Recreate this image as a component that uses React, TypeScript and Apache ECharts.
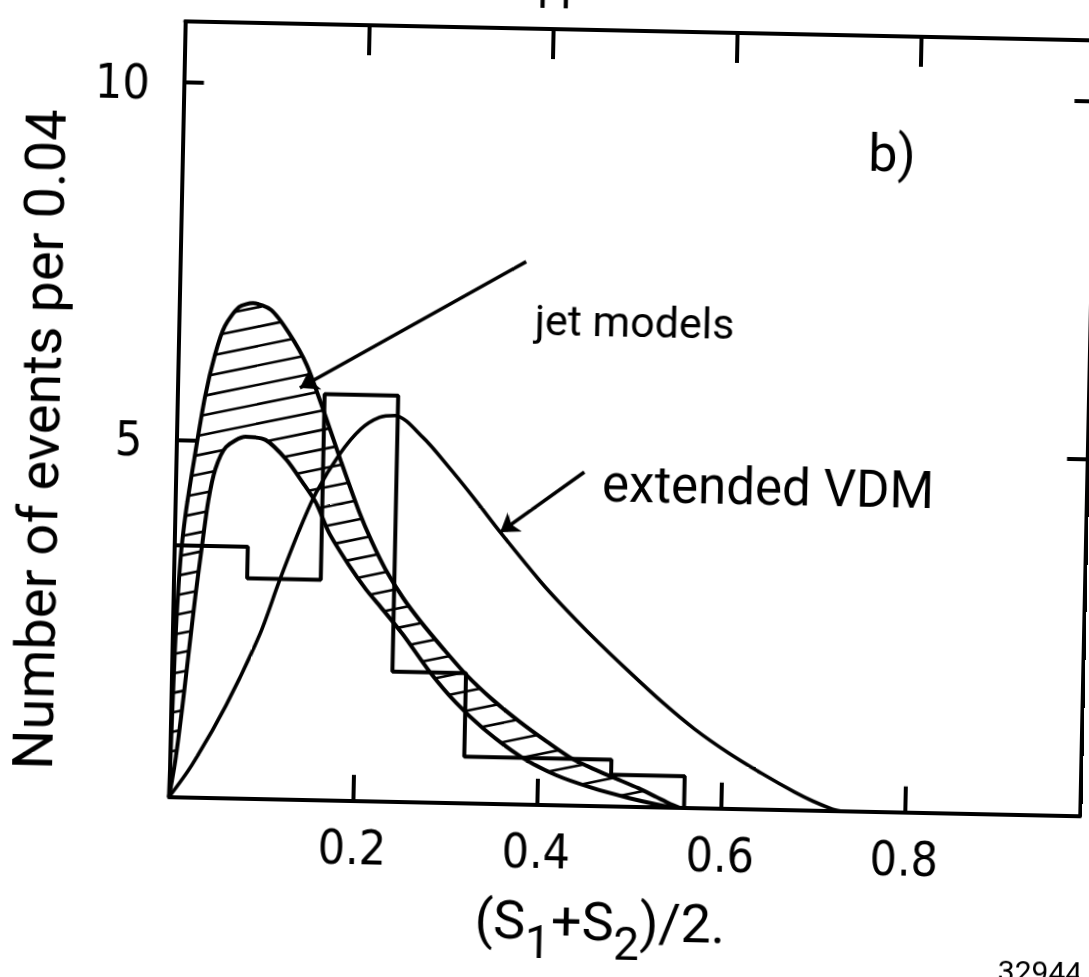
import React, { useEffect, useRef } from "react";
import * as echarts from "echarts";

// ---------- data ----------
const xTickLabels = [0.2, 0.4, 0.6, 0.8];
const yTickLabels = [5, 10];

const histEdges = [0, 0.08, 0.16, 0.24, 0.32, 0.4, 0.48, 0.56];
const histCounts = [3.52, 3.08, 5.68, 1.82, 0.65, 0.65, 0.44];

// jet models: upper boundary of the hatched band
const jetUpper: number[][] = [
  [0, 0], [0.003, 2.0], [0.007, 3.3], [0.012, 4.0], [0.02, 4.75], [0.03, 5.6],
  [0.04, 6.2], [0.05, 6.6], [0.065, 6.87], [0.08, 6.93], [0.1, 6.84], [0.12, 6.52],
  [0.14, 6.08], [0.16, 5.42], [0.18, 4.72], [0.2, 4.05], [0.215, 3.62], [0.23, 3.25],
  [0.25, 2.85], [0.27, 2.52], [0.295, 2.15], [0.32, 1.8], [0.35, 1.45], [0.38, 1.15],
  [0.41, 0.88], [0.435, 0.67], [0.46, 0.52], [0.485, 0.39], [0.51, 0.26], [0.53, 0.14],
  [0.545, 0.05], [0.555, 0],
];
// jet models: lower boundary of the hatched band
const jetLower: number[][] = [
  [0, 0], [0.006, 0.5], [0.012, 1.2], [0.018, 2.0], [0.024, 2.8], [0.03, 3.5],
  [0.036, 4.15], [0.043, 4.6], [0.054, 4.91], [0.075, 5.06], [0.097, 5.02], [0.12, 4.75],
  [0.138, 4.44], [0.153, 4.16], [0.168, 3.74], [0.19, 3.3], [0.21, 2.95], [0.225, 2.73],
  [0.25, 2.35], [0.281, 1.82], [0.31, 1.4], [0.34, 1.05], [0.381, 0.67], [0.42, 0.42],
  [0.46, 0.25], [0.5, 0.12], [0.53, 0.04], [0.55, 0],
];
// extended VDM
const vdm: number[][] = [
  [0, 0], [0.024, 0.45], [0.06, 1.3], [0.095, 2.3], [0.115, 3.05], [0.135, 3.75],
  [0.153, 4.3], [0.178, 4.85], [0.2, 5.2], [0.22, 5.37], [0.237, 5.4], [0.268, 5.1],
  [0.295, 4.72], [0.324, 4.28], [0.354, 3.8], [0.399, 3.12], [0.421, 2.82], [0.458, 2.35],
  [0.496, 1.9], [0.533, 1.48], [0.57, 1.1], [0.607, 0.78], [0.644, 0.5], [0.68, 0.25],
  [0.7, 0.13], [0.72, 0.03], [0.73, 0],
];

// annotation arrows (from, to) in data units
const jetArrow = [[0.376, 7.59], [0.133, 5.76]];
const vdmArrow = [[0.444, 4.665], [0.354, 3.8]];

const yTitle = "Number of events per 0.04";
const topText = "γγ events.";
const figNumber = "32944";

// ---------- style ----------
const NUM_FONT = "'Liberation Sans Narrow', 'DejaVu Sans Condensed', Roboto, sans-serif";
const TXT_FONT = "Roboto, 'DejaVu Sans', sans-serif";
const HATCH_ANGLE = 12.7;
const HATCH_GAP = 19;
const X_MAX = 0.99;
const Y_MAX = 10.85;
const PX_PER_X = 920;
const PX_PER_Y = 71.5;

function renderHatch(_params: any, api: any) {
  const pts: number[][] = jetUpper
    .map((p) => api.coord(p))
    .concat(jetLower.slice().reverse().map((p) => api.coord(p)));
  const a = (HATCH_ANGLE * Math.PI) / 180;
  const d = [Math.cos(a), -Math.sin(a)];
  const n = [Math.sin(a), Math.cos(a)];
  const proj = pts.map((p) => p[0] * n[0] + p[1] * n[1]);
  const lo = Math.min(...proj);
  const hi = Math.max(...proj);
  const children: any[] = [];
  for (let s = Math.ceil(lo / HATCH_GAP) * HATCH_GAP + 0.5; s < hi; s += HATCH_GAP) {
    const us: number[] = [];
    for (let i = 0; i < pts.length; i++) {
      const j = (i + 1) % pts.length;
      const si = proj[i];
      const sj = proj[j];
      if ((si - s) * (sj - s) < 0) {
        const t = (s - si) / (sj - si);
        const x = pts[i][0] + t * (pts[j][0] - pts[i][0]);
        const y = pts[i][1] + t * (pts[j][1] - pts[i][1]);
        us.push(x * d[0] + y * d[1]);
      }
    }
    us.sort((p, q) => p - q);
    for (let k = 0; k + 1 < us.length; k += 2) {
      const u1 = us[k];
      const u2 = us[k + 1];
      children.push({
        type: "line",
        shape: {
          x1: s * n[0] + u1 * d[0],
          y1: s * n[1] + u1 * d[1],
          x2: s * n[0] + u2 * d[0],
          y2: s * n[1] + u2 * d[1],
        },
        style: { stroke: "#000", lineWidth: 2.6 },
      });
    }
  }
  return { type: "group", children };
}

export default function App() {
  const ref = useRef<HTMLDivElement>(null);

  useEffect(() => {
    document.documentElement.style.overflow = "hidden";
    document.body.style.overflow = "hidden";
    document.body.style.margin = "0";
    if (!ref.current) return;
    const chart = echarts.init(ref.current, null, { renderer: "svg" });

    const histData: number[][] = histCounts.map((c, i) => [histEdges[i], c]);
    histData.push([histEdges[histEdges.length - 1], histCounts[histCounts.length - 1]]);
    histData.push([histEdges[histEdges.length - 1], 0]);

    const axisLine = { show: true, onZero: false, lineStyle: { color: "#000", width: 4 } };
    const tickStyle = { color: "#000", width: 4 };
    const gridBottomPx = 804.8;

    const option: any = {
      animation: false,
      backgroundColor: "#fff",
      grid: {
        left: 175.5,
        top: gridBottomPx - Y_MAX * PX_PER_Y,
        width: X_MAX * PX_PER_X,
        height: Y_MAX * PX_PER_Y,
        containLabel: false,
        outerBoundsMode: "none",
      },
      xAxis: [
        {
          type: "value",
          min: 0,
          max: X_MAX,
          interval: 0.2,
          position: "bottom",
          axisLine,
          axisTick: { show: true, inside: true, length: 26, lineStyle: tickStyle },
          axisLabel: {
            color: "#000",
            fontSize: 48,
            fontFamily: NUM_FONT,
            margin: 22,
            formatter: (v: number) =>
              xTickLabels.some((t) => Math.abs(t - v) < 1e-6) ? v.toFixed(1) : "",
          },
          splitLine: { show: false },
        },
        {
          type: "value",
          min: 0,
          max: X_MAX,
          interval: 0.2,
          position: "top",
          axisLine,
          axisTick: { show: true, inside: true, length: 30, lineStyle: tickStyle },
          axisLabel: { show: false },
          splitLine: { show: false },
        },
      ],
      yAxis: [
        {
          type: "value",
          min: 0,
          max: Y_MAX,
          interval: 5,
          position: "left",
          axisLine,
          axisTick: { show: true, inside: true, length: 20, lineStyle: tickStyle },
          axisLabel: {
            color: "#000",
            fontSize: 48,
            fontFamily: NUM_FONT,
            margin: 34,
            formatter: (v: number) =>
              yTickLabels.some((t) => Math.abs(t - v) < 1e-6) ? String(v) : "",
          },
          splitLine: { show: false },
        },
        {
          type: "value",
          min: 0,
          max: Y_MAX,
          interval: 5,
          position: "right",
          axisLine,
          axisTick: { show: true, inside: true, length: 20, lineStyle: tickStyle },
          axisLabel: { show: false },
          splitLine: { show: false },
        },
      ],
      series: [
        {
          type: "custom",
          name: "hatch",
          coordinateSystem: "cartesian2d",
          silent: true,
          data: [[0, 0]],
          renderItem: renderHatch,
          z: 2,
        },
        {
          type: "line",
          name: "jet models (upper)",
          data: jetUpper,
          smooth: 0.25,
          showSymbol: false,
          lineStyle: { color: "#000", width: 4 },
          z: 3,
        },
        {
          type: "line",
          name: "jet models (lower)",
          data: jetLower,
          smooth: 0.25,
          showSymbol: false,
          lineStyle: { color: "#000", width: 4 },
          z: 3,
        },
        {
          type: "line",
          name: "extended VDM",
          data: vdm,
          smooth: 0.3,
          showSymbol: false,
          lineStyle: { color: "#000", width: 3.6 },
          z: 3,
          markLine: {
            silent: true,
            symbol: ["none", "arrow"],
            symbolSize: 18,
            label: { show: false },
            lineStyle: { color: "#000", width: 3.5, type: "solid" },
            data: [
              [{ coord: jetArrow[0] }, { coord: jetArrow[1] }],
              [{ coord: vdmArrow[0] }, { coord: vdmArrow[1] }],
            ],
          },
        },
        {
          type: "line",
          name: "data",
          data: histData,
          step: "end",
          showSymbol: false,
          lineStyle: { color: "#000", width: 4 },
          z: 3,
        },
      ],
      graphic: [
        {
          type: "text",
          x: 39,
          y: 450,
          rotation: Math.PI / 2,
          style: {
            text: yTitle,
            fontSize: 56,
            fontFamily: TXT_FONT,
            fill: "#000",
            align: "center",
            verticalAlign: "middle",
          },
        },
        {
          type: "text",
          x: 609,
          y: 929,
          style: {
            text: "{m|(S}{s|1}{m|+S}{s|2}{m|)/2.}",
            fill: "#000",
            align: "center",
            verticalAlign: "middle",
            rich: {
              m: { fontSize: 54, fontFamily: TXT_FONT, fill: "#000", verticalAlign: "top", lineHeight: 72 },
              s: { fontSize: 46, fontFamily: TXT_FONT, fill: "#000", verticalAlign: "bottom", lineHeight: 72 },
            },
          },
        },
        {
          type: "text",
          x: 885,
          y: 146,
          style: { text: "b)", fontSize: 52, fontFamily: TXT_FONT, fill: "#000", align: "center", verticalAlign: "middle" },
        },
        {
          type: "text",
          x: 631,
          y: 320,
          style: { text: "jet models", fontSize: 43, fontFamily: TXT_FONT, fill: "#000", align: "center", verticalAlign: "middle" },
        },
        {
          type: "text",
          x: 768,
          y: 482,
          style: { text: "extended VDM", fontSize: 51, fontFamily: TXT_FONT, fill: "#000", align: "center", verticalAlign: "middle" },
        },
        {
          type: "text",
          x: 623,
          y: 6,
          style: { text: topText, fontSize: 46, fontFamily: TXT_FONT, fill: "#000", align: "center", verticalAlign: "bottom" },
        },
        {
          type: "text",
          x: 1050,
          y: 946,
          style: { text: figNumber, fontSize: 30, fontFamily: TXT_FONT, fill: "#000", align: "center", verticalAlign: "top" },
        },
      ],
    };

    chart.setOption(option);
    return () => chart.dispose();
  }, []);

  return (
    <div
      ref={ref}
      style={{
        position: "fixed",
        left: 0,
        top: 0,
        width: 1089,
        height: 977,
        background: "#fff",
        transform: "rotate(1.2deg)",
        transformOrigin: "50% 50%",
      }}
    />
  );
}
